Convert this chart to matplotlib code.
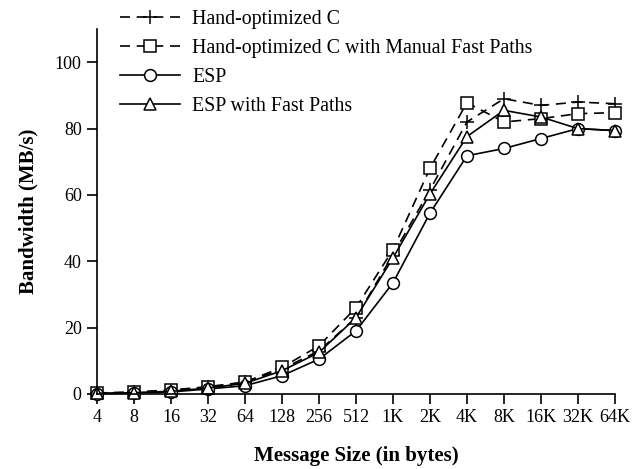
import matplotlib
matplotlib.use('Agg')
from matplotlib import pyplot as plt
import numpy as np

plt.rcParams['font.family'] = ['Liberation Serif', 'DejaVu Serif']

sizes = ['4', '8', '16', '32', '64', '128', '256', '512', '1K', '2K', '4K', '8K', '16K', '32K', '64K']
hand_c = [0.2, 0.5, 1.0, 2.0, 3.5, 7.5, 13.0, 23.0, 42.0, 61.5, 82.0, 89.0, 87.0, 88.0, 87.5]
hand_c_fast = [0.3, 0.6, 1.2, 2.2, 3.6, 8.0, 14.5, 26.0, 43.5, 68.0, 87.8, 82.0, 83.0, 84.5, 84.8]
esp = [0.1, 0.3, 0.6, 1.5, 2.5, 5.5, 10.5, 19.0, 33.5, 54.5, 71.8, 74.0, 77.0, 80.0, 79.4]
esp_fast = [0.2, 0.4, 0.8, 1.8, 3.2, 7.0, 12.5, 23.0, 41.0, 60.3, 77.6, 85.5, 83.5, 80.0, 79.4]

x = np.arange(len(sizes))

fig = plt.figure(figsize=(6.32, 4.69), dpi=100)
ax = fig.add_axes([0.1535, 0.16, 0.8195, 0.778])

dash = (0, (6, 4))
common = dict(color='black', lw=1.2, mfc='white', mec='black', mew=1.1, clip_on=False)
ax.plot(x, hand_c, linestyle=dash, marker='+', ms=10, label='Hand-optimized C', **common)
ax.plot(x, hand_c_fast, linestyle=dash, marker='s', ms=8, label='Hand-optimized C with Manual Fast Paths', **common)
ax.plot(x, esp, linestyle='-', marker='o', ms=8.5, label='ESP', **common)
ax.plot(x, esp_fast, linestyle='-', marker='^', ms=8.5, label='ESP with Fast Paths', **common)

ax.set_xlim(0, len(sizes) - 1)
ax.set_ylim(0, 110)
ax.set_xticks(x)
ax.set_xticklabels(sizes)
ax.set_yticks([0, 20, 40, 60, 80, 100])
ax.tick_params(direction='out', length=7, width=1.2, labelsize=13, pad=4)
for s in ['top', 'right']:
    ax.spines[s].set_visible(False)
for s in ['left', 'bottom']:
    ax.spines[s].set_linewidth(1.2)

ax.set_xlabel('Message Size (in bytes)', fontsize=15, fontweight='bold', labelpad=14)
ax.set_ylabel('Bandwidth (MB/s)', fontsize=15, fontweight='bold', labelpad=12)

ax.legend(loc='upper left', bbox_to_anchor=(0.178, 0.996), bbox_transform=fig.transFigure,
          frameon=False, fontsize=14.3, handlelength=3.0, labelspacing=0.5,
          handletextpad=0.6, borderaxespad=0)

fig.savefig('out.png', dpi=100)
